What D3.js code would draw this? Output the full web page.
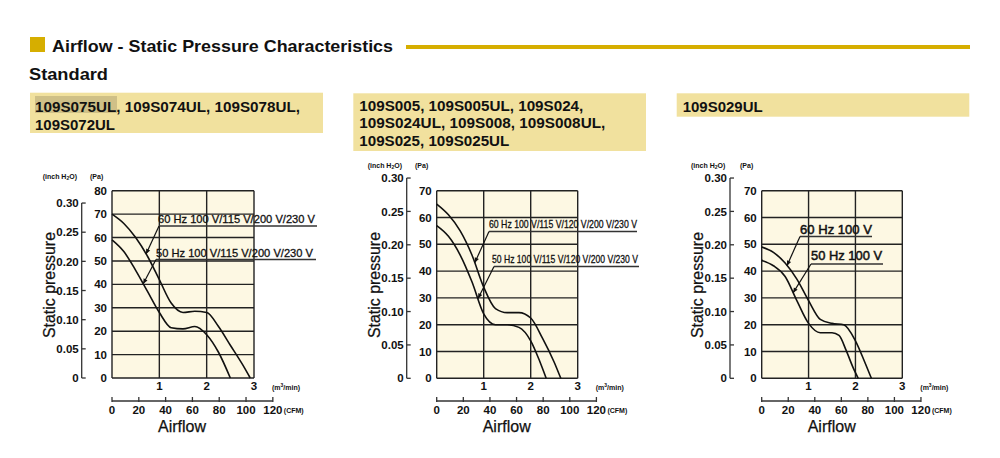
<!DOCTYPE html>
<html><head><meta charset="utf-8">
<script src="https://cdn.jsdelivr.net/npm/d3@7"></script>
<style>body{margin:0;background:#fff}svg{display:block}</style>
</head><body><svg id="c" width="1000" height="458"></svg>
<script>
// ---------- data ----------
const titleText = "Airflow - Static Pressure Characteristics";
const subtitleText = "Standard";
const modelsA = ["109S075UL, 109S074UL, 109S078UL,", "109S072UL"];
const modelsB = ["109S005, 109S005UL, 109S024,", "109S024UL, 109S008, 109S008UL,", "109S025, 109S025UL"];
const modelsC = ["109S029UL"];
const flowTicks = [1, 2, 3];
const cfmTicks = [0, 20, 40, 60, 80, 100, 120];
const inchTicks = [0, 0.05, 0.10, 0.15, 0.20, 0.25, 0.30];
const paTicksA = [0, 10, 20, 30, 40, 50, 60, 70, 80];
const paTicksB = [0, 10, 20, 30, 40, 50, 60, 70];
const labelsA = ["60 Hz 100 V/115 V/200 V/230 V", "50 Hz 100 V/115 V/200 V/230 V"];
const labelsB = ["60 Hz 100 V/115 V/120 V/200 V/230 V", "50 Hz 100 V/115 V/120 V/200 V/230 V"];
const labelsC = ["60 Hz 100 V", "50 Hz 100 V"];
// [airflow m3/min, static pressure Pa]
const a60 = [[0,70],[0.25,66],[0.5,60],[0.75,52],[1.0,42],[1.25,32],[1.5,28],[1.75,28.5],[2.0,28],[2.25,22],[2.5,14],[2.75,6],[2.92,0]];
const a50 = [[0,59],[0.25,54],[0.5,46],[0.75,37],[1.0,28],[1.25,21.5],[1.5,21],[1.75,22],[2.0,18.5],[2.25,11],[2.5,0]];
const b60 = [[0,65],[0.25,61],[0.5,55],[0.75,46],[1.0,34],[1.25,26],[1.5,24.5],[1.75,24.5],[2.0,22.5],[2.25,15],[2.5,6],[2.64,0]];
const b50 = [[0,57],[0.25,53],[0.5,46],[0.75,36],[1.0,24],[1.25,20],[1.5,20],[1.75,19],[2.0,14],[2.2,6],[2.33,0]];
const c60 = [[0,49],[0.25,47],[0.5,43],[0.75,37],[1.0,29],[1.25,22],[1.5,20.5],[1.75,20],[2.0,14],[2.2,6],[2.34,0]];
const c50 = [[0,44],[0.25,42],[0.5,38],[0.75,29],[1.0,20.5],[1.25,17],[1.5,17],[1.65,16],[1.8,10.5],[1.95,4],[2.06,0]];
const leaderFlowA = [0.72, 0.66];
const leaderFlowB = [0.81, 0.88];
const leaderFlowC = [0.54, 0.67];

const PA_PER_INCH = 249.09;
const M3_PER_CFM = 0.0283168;

// ---------- styles ----------
const FONT = "'Liberation Sans', Arial, Helvetica, sans-serif";
const NARROW = "'Liberation Sans Narrow','Arial Narrow','Liberation Sans',Arial,sans-serif";
const GOLD = "#d6ae00";
const BOX = "#f1e19e";
const PLOT = "#fdf8e3";
const INK = "#111";

const svg = d3.select("#c");

// header
svg.append("rect").attr("x", 30).attr("y", 37).attr("width", 15).attr("height", 15).attr("fill", GOLD);
svg.append("text").attr("x", 52).attr("y", 51.5).attr("font-family", FONT).attr("font-weight", "bold")
  .attr("font-size", 17).attr("fill", INK).attr("textLength", 341).attr("lengthAdjust", "spacingAndGlyphs").text(titleText);
svg.append("rect").attr("x", 406).attr("y", 45).attr("width", 564).attr("height", 4).attr("fill", GOLD);
svg.append("text").attr("x", 29).attr("y", 79.5).attr("font-family", FONT).attr("font-weight", "bold")
  .attr("font-size", 16).attr("fill", INK).attr("textLength", 79).attr("lengthAdjust", "spacingAndGlyphs").text(subtitleText);

function interp(data, xv) {
  for (let i = 1; i < data.length; i++) {
    if (xv <= data[i][0]) {
      const t = (xv - data[i-1][0]) / (data[i][0] - data[i-1][0]);
      return data[i-1][1] + t * (data[i][1] - data[i-1][1]);
    }
  }
  return data[data.length-1][1];
}

function drawChart(cfg) {
  const g = svg.append("g");
  // model box
  g.append("rect").attr("x", cfg.box[0]).attr("y", cfg.box[1]).attr("width", cfg.box[2]).attr("height", cfg.box[3]).attr("fill", BOX);
  if (cfg.hl) g.append("rect").attr("x", cfg.hl[0]).attr("y", cfg.hl[1]).attr("width", cfg.hl[2]).attr("height", cfg.hl[3]).attr("fill", "#cfc087");
  cfg.models.forEach((m, i) => {
    g.append("text").attr("x", cfg.textX).attr("y", cfg.textY[i]).attr("font-family", FONT).attr("font-weight", "bold")
      .attr("font-size", 14).attr("fill", INK).attr("textLength", cfg.textW[i]).attr("lengthAdjust", "spacingAndGlyphs").text(m);
  });

  const x = d3.scaleLinear().domain([0, 3]).range([cfg.x0, cfg.x1]);
  const y = d3.scaleLinear().domain([0, cfg.paMax]).range([cfg.yBot, cfg.yTop]);

  // plot background & grid
  g.append("rect").attr("x", x(0)).attr("y", y(cfg.paMax)).attr("width", x(3) - x(0)).attr("height", y(0) - y(cfg.paMax)).attr("fill", PLOT);
  g.selectAll(".hg").data(cfg.paTicks).enter().append("line")
    .attr("x1", x(0)).attr("x2", x(3)).attr("y1", d => y(d)).attr("y2", d => y(d))
    .attr("stroke", "#222").attr("stroke-width", 1.4);
  g.selectAll(".vg").data([0, 1, 2, 3]).enter().append("line")
    .attr("x1", d => x(d)).attr("x2", d => x(d)).attr("y1", y(0)).attr("y2", y(cfg.paMax))
    .attr("stroke", "#222").attr("stroke-width", 1.4);

  // Pa labels
  g.selectAll(".pl").data(cfg.paTicks).enter().append("text")
    .attr("x", x(0) - 5).attr("y", d => y(d)).attr("dy", "0.36em").attr("text-anchor", "end")
    .attr("font-family", NARROW).attr("font-weight", "bold").attr("font-size", 11.5).attr("fill", INK).text(d => d);

  // inch axis
  const yi = v => y(v * PA_PER_INCH);
  g.append("line").attr("x1", cfg.inchX).attr("x2", cfg.inchX).attr("y1", yi(0)).attr("y2", yi(0.30)).attr("stroke", "#333").attr("stroke-width", 1.3);
  g.selectAll(".it").data(inchTicks).enter().append("line")
    .attr("x1", cfg.inchX).attr("x2", cfg.inchX + 4).attr("y1", d => yi(d)).attr("y2", d => yi(d)).attr("stroke", "#333").attr("stroke-width", 1.3);
  g.selectAll(".il").data(inchTicks).enter().append("text")
    .attr("x", cfg.inchX - 3).attr("y", d => yi(d)).attr("dy", "0.36em").attr("text-anchor", "end")
    .attr("font-family", NARROW).attr("font-weight", "bold").attr("font-size", 11.5).attr("fill", INK)
    .text(d => d === 0 ? "0" : d.toFixed(2));
  // units
  g.append("text").attr("x", cfg.inchX - 39).attr("y", cfg.unitY).attr("font-family", FONT).attr("font-weight", "bold")
    .attr("font-size", 7).attr("fill", INK).html("(inch H<tspan font-size='5' dy='1'>2</tspan><tspan dy='-1'>O)</tspan>");
  g.append("text").attr("x", cfg.paUnitX).attr("y", cfg.unitY).attr("font-family", FONT).attr("font-weight", "bold")
    .attr("font-size", 7).attr("fill", INK).text("(Pa)");
  // y title
  g.append("text").attr("transform", `translate(${cfg.inchX - 27},285) rotate(-90)`).attr("text-anchor", "middle")
    .attr("font-family", FONT).attr("font-size", 16).attr("fill", INK).attr("stroke", INK).attr("stroke-width", 0.25)
    .attr("textLength", 106).attr("lengthAdjust", "spacingAndGlyphs")
    .text("Static pressure");

  // flow tick labels
  g.selectAll(".fl").data(flowTicks).enter().append("text")
    .attr("x", d => x(d)).attr("y", 389.5).attr("text-anchor", "middle")
    .attr("font-family", NARROW).attr("font-weight", "bold").attr("font-size", 11.5).attr("fill", INK).text(d => d);
  g.append("text").attr("x", x(3) + 18).attr("y", 390).attr("font-family", FONT).attr("font-weight", "bold")
    .attr("font-size", 7).attr("fill", INK).html("(m<tspan font-size='5' dy='-3'>3</tspan><tspan dy='3'>/min)</tspan>");

  // CFM axis
  const xc = d3.scaleLinear().domain([0, 120]).range([x(0), x(120 * M3_PER_CFM)]);
  g.append("line").attr("x1", xc(0)).attr("x2", xc(120)).attr("y1", 401).attr("y2", 401).attr("stroke", "#333").attr("stroke-width", 1.3);
  g.selectAll(".ct").data(cfmTicks).enter().append("line")
    .attr("x1", d => xc(d)).attr("x2", d => xc(d)).attr("y1", 397).attr("y2", 402).attr("stroke", "#333").attr("stroke-width", 1.3);
  g.selectAll(".cl").data(cfmTicks).enter().append("text")
    .attr("x", d => xc(d)).attr("y", 413.5).attr("text-anchor", "middle")
    .attr("font-family", NARROW).attr("font-weight", "bold").attr("font-size", 11.5).attr("fill", INK).text(d => d);
  g.append("text").attr("x", xc(120) + 11).attr("y", 413).attr("font-family", FONT).attr("font-weight", "bold")
    .attr("font-size", 7).attr("fill", INK).text("(CFM)");
  g.append("text").attr("x", x(0) + 70).attr("y", 432).attr("text-anchor", "middle")
    .attr("font-family", FONT).attr("font-size", 16).attr("fill", INK).attr("stroke", INK).attr("stroke-width", 0.25).text("Airflow");

  // curves
  const line = d3.line().x(d => x(d[0])).y(d => y(d[1])).curve(d3.curveMonotoneX);
  cfg.series.forEach(s => {
    g.append("path").attr("d", line(s)).attr("fill", "none").attr("stroke", INK).attr("stroke-width", 1.6);
  });

  // labels with leaders
  cfg.labels.forEach((lab, i) => {
    const L = cfg.labelPos[i];
    g.append("text").attr("x", L.tx).attr("y", L.ty).attr("font-family", FONT).attr("font-size", L.fs)
      .attr("font-weight", L.fw || "normal").attr("stroke", INK).attr("stroke-width", L.sw || 0)
      .attr("fill", INK).attr("textLength", L.tw).attr("lengthAdjust", "spacingAndGlyphs").text(lab);
    g.append("line").attr("x1", L.ux0).attr("x2", L.ux1).attr("y1", L.uy).attr("y2", L.uy).attr("stroke", "#333").attr("stroke-width", 1.3);
    const fx = cfg.leaderFlow[i];
    const px = x(fx), py = y(interp(cfg.series[i], fx));
    g.append("line").attr("x1", L.ux0).attr("y1", L.uy).attr("x2", px).attr("y2", py).attr("stroke", INK).attr("stroke-width", 1.2);
    const ang = Math.atan2(py - L.uy, px - L.ux0);
    const ah = 5, aw = 2.2;
    const bx = px - ah * Math.cos(ang), by = py - ah * Math.sin(ang);
    g.append("path").attr("d", `M${px},${py}L${bx + aw * Math.sin(ang)},${by - aw * Math.cos(ang)}L${bx - aw * Math.sin(ang)},${by + aw * Math.cos(ang)}Z`).attr("fill", INK);
  });
}

drawChart({
  models: modelsA, box: [30, 92.7, 293, 40.3], hl: [35, 96, 82, 17], textX: 35, textY: [111.5, 129.5], textW: [265, 80],
  x0: 112, x1: 254, yTop: 190.7, yBot: 378, paMax: 80, paTicks: paTicksA,
  inchX: 81.7, unitY: 179, paUnitX: 90,
  series: [a60, a50], labels: labelsA, leaderFlow: leaderFlowA,
  labelPos: [
    {tx: 158, ty: 223, tw: 157, fs: 11.5, sw: 0.3, ux0: 159, ux1: 317, uy: 226},
    {tx: 156, ty: 256.5, tw: 157, fs: 11.5, sw: 0.3, ux0: 156, ux1: 316, uy: 259.5}
  ]
});
drawChart({
  models: modelsB, box: [353.3, 93.3, 292.7, 57.7], textX: 359.3, textY: [110.7, 128.3, 145.5], textW: [224, 246, 150],
  x0: 436.7, x1: 577.7, yTop: 190.7, yBot: 378.3, paMax: 70, paTicks: paTicksB,
  inchX: 406.7, unitY: 168, paUnitX: 415,
  series: [b60, b50], labels: labelsB, leaderFlow: leaderFlowB,
  labelPos: [
    {tx: 489, ty: 228, tw: 148, fs: 11, sw: 0.3, ux0: 489, ux1: 637, uy: 231.5},
    {tx: 492, ty: 262.5, tw: 146, fs: 11, sw: 0.3, ux0: 494, ux1: 639, uy: 266.5}
  ]
});
drawChart({
  models: modelsC, box: [676.7, 93.3, 292.6, 23.4], textX: 682.7, textY: [111.5], textW: [80],
  x0: 761.7, x1: 902.3, yTop: 190.7, yBot: 378.3, paMax: 70, paTicks: paTicksB,
  inchX: 730, unitY: 168, paUnitX: 740,
  series: [c60, c50], labels: labelsC, leaderFlow: leaderFlowC,
  labelPos: [
    {tx: 800, ty: 233.5, tw: 72, fs: 13, sw: 0.5, ux0: 800, ux1: 872, uy: 236.5},
    {tx: 811, ty: 260, tw: 71, fs: 13, sw: 0.5, ux0: 811, ux1: 883, uy: 264}
  ]
});
</script></body></html>
